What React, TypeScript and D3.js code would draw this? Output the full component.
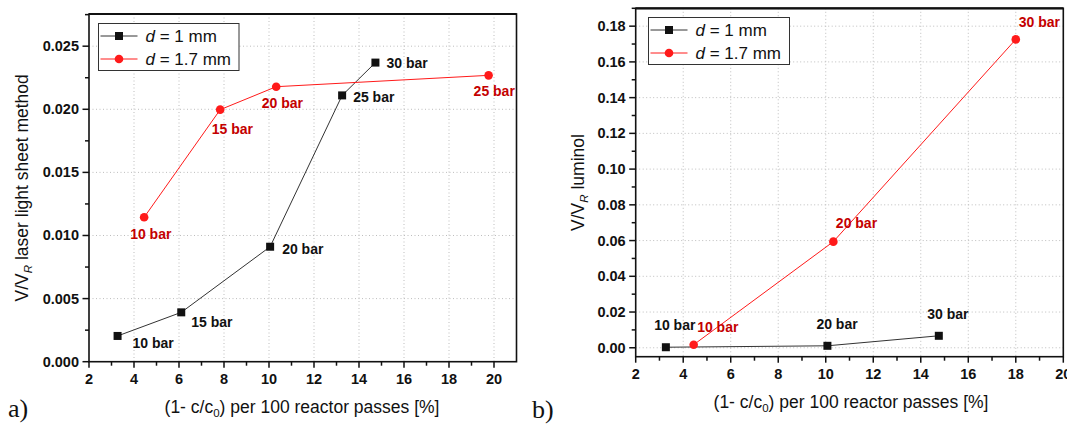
import React from 'react';
import * as d3 from 'd3';

// ---------- data ----------
const xTickValues = [2, 4, 6, 8, 10, 12, 14, 16, 18, 20];
const leftYTicks = [0, 0.005, 0.01, 0.015, 0.02, 0.025];
const rightYTicks = [0, 0.02, 0.04, 0.06, 0.08, 0.1, 0.12, 0.14, 0.16, 0.18];

const seriesNames = ['1 mm', '1.7 mm'];

// panel a) laser light sheet method
const leftX1mm = [3.27, 6.1, 10.05, 13.25, 14.73];
const leftY1mm = [0.00204, 0.00391, 0.00911, 0.0211, 0.0237];
const leftLabels1mm = ['10 bar', '15 bar', '20 bar', '25 bar', '30 bar'];
const leftX17mm = [4.45, 7.83, 10.32, 19.76];
const leftY17mm = [0.01144, 0.01997, 0.02179, 0.02269];
const leftLabels17mm = ['10 bar', '15 bar', '20 bar', '25 bar'];

// panel b) luminol
const rightX1mm = [3.27, 10.07, 14.76];
const rightY1mm = [0.0003, 0.0011, 0.0067];
const rightLabels1mm = ['10 bar', '20 bar', '30 bar'];
const rightX17mm = [4.44, 10.32, 18.0];
const rightY17mm = [0.0017, 0.0594, 0.1726];
const rightLabels17mm = ['10 bar', '20 bar', '30 bar'];

// ---------- layout (label offsets in px) ----------
const leftOff1 = [[15, 12], [10, 15], [12, 7], [11, 7], [11, 5]];
const leftOff17 = [[-14, 22], [-8.5, 24], [-14.5, 21], [-15, 21]];
const rightOff1 = [[-11.7, -17], [-11, -17], [-11.5, -17]];
const rightOff17 = [[3.5, -13], [2.5, -14], [3, -12.5]];

const FONT = 'Arial, "Liberation Sans", Helvetica, sans-serif';
const BLACK = '#111';
const RED = '#ff1a1a';
const RED_TEXT = '#c40000';

type Series = { xs: number[]; ys: number[]; labels: string[]; off: number[][]; kind: 'square' | 'circle' };

type PanelProps = {
  x0: number; x1: number; yTop: number; yBottom: number;
  xDomain: [number, number]; yDomain: [number, number];
  yTicks: number[]; yMinor: number[]; xMinor: number[]; yFmt: string;
  series: Series[];
  legend: { x: number; y: number; w: number; h: number };
  yTitleRest: string; yTitleX: number; xTitleX: number; xTitleY: number;
  letter: string; letterX: number; letterY: number;
};

function Panel(p: PanelProps) {
  const x = d3.scaleLinear().domain(p.xDomain).range([p.x0, p.x1]);
  const y = d3.scaleLinear().domain(p.yDomain).range([p.yBottom, p.yTop]);
  const line = d3.line<[number, number]>().x(d => x(d[0])).y(d => y(d[1]));
  const gridX = xTickValues.filter(v => v > p.xDomain[0] && v < p.xDomain[1]);
  const gridY = p.yTicks.filter(v => y(v) < p.yBottom - 1 && y(v) > p.yTop + 1);
  const yc = (p.yTop + p.yBottom) / 2;
  return (
    <g>
      {/* grid */}
      {gridX.map(v => (
        <line key={'gx' + v} x1={x(v)} x2={x(v)} y1={p.yTop} y2={p.yBottom} stroke="#bdbdbd" strokeWidth={1} strokeDasharray="1,2.5" />
      ))}
      {gridY.map(v => (
        <line key={'gy' + v} x1={p.x0} x2={p.x1} y1={y(v)} y2={y(v)} stroke="#bdbdbd" strokeWidth={1} strokeDasharray="1,2.5" />
      ))}
      {/* frame */}
      <rect x={p.x0} y={p.yTop} width={p.x1 - p.x0} height={p.yBottom - p.yTop} fill="none" stroke={BLACK} strokeWidth={1.6} />
      <line x1={p.x0} x2={p.x1} y1={p.yTop} y2={p.yTop} stroke={BLACK} strokeWidth={2.2} />
      {/* x ticks */}
      {xTickValues.filter(v => v >= p.xDomain[0] && v <= p.xDomain[1]).map(v => (
        <g key={'xt' + v}>
          <line x1={x(v)} x2={x(v)} y1={p.yBottom} y2={p.yBottom + 6} stroke={BLACK} strokeWidth={1.5} />
          <text x={x(v)} y={p.yBottom + 22} textAnchor="middle" fontFamily={FONT} fontWeight="bold" fontSize={14.5} fill={BLACK}>{v}</text>
        </g>
      ))}
      {p.xMinor.map(v => (
        <line key={'xm' + v} x1={x(v)} x2={x(v)} y1={p.yBottom} y2={p.yBottom + 4} stroke={BLACK} strokeWidth={1.5} />
      ))}
      {/* y ticks */}
      {p.yTicks.map(v => (
        <g key={'yt' + v}>
          <line x1={p.x0 - 6.5} x2={p.x0} y1={y(v)} y2={y(v)} stroke={BLACK} strokeWidth={1.5} />
          <text x={p.x0 - 10} y={y(v) + 5} textAnchor="end" fontFamily={FONT} fontWeight="bold" fontSize={14.5} fill={BLACK}>{d3.format(p.yFmt)(v)}</text>
        </g>
      ))}
      {p.yMinor.map(v => (
        <line key={'ym' + v} x1={p.x0 - 4} x2={p.x0} y1={y(v)} y2={y(v)} stroke={BLACK} strokeWidth={1.5} />
      ))}
      {/* series */}
      {p.series.map((s, si) => {
        const pts: [number, number][] = s.xs.map((v, i) => [v, s.ys[i]]);
        const col = s.kind === 'square' ? BLACK : RED;
        return (
          <g key={'s' + si}>
            <path d={line(pts) || ''} fill="none" stroke={s.kind === 'square' ? '#333' : RED} strokeWidth={1} />
            {pts.map((d, i) => s.kind === 'square'
              ? <rect key={i} x={x(d[0]) - 4} y={y(d[1]) - 4} width={8} height={8} fill={col} />
              : <circle key={i} cx={x(d[0])} cy={y(d[1])} r={4.3} fill={col} />)}
            {pts.map((d, i) => (
              <text key={'l' + i} x={x(d[0]) + s.off[i][0]} y={y(d[1]) + s.off[i][1]} fontFamily={FONT} fontWeight="bold" fontSize={14}
                fill={s.kind === 'square' ? BLACK : RED_TEXT}>{s.labels[i]}</text>
            ))}
          </g>
        );
      })}
      {/* legend */}
      <rect x={p.legend.x} y={p.legend.y} width={p.legend.w} height={p.legend.h} fill="#fff" stroke="#333" strokeWidth={1} />
      {seriesNames.map((n, i) => {
        const cy = p.legend.y + 12.5 + i * 23;
        const lx = p.legend.x + 2;
        const isSq = i === 0;
        return (
          <g key={'lg' + i}>
            <line x1={lx} x2={lx + 37} y1={cy} y2={cy} stroke={isSq ? '#333' : RED} strokeWidth={1} />
            {isSq
              ? <rect x={lx + 18.5 - 4} y={cy - 4} width={8} height={8} fill={BLACK} />
              : <circle cx={lx + 18.5} cy={cy} r={4.3} fill={RED} />}
            <text x={lx + 45} y={cy + 6} fontFamily={FONT} fontSize={17} fill={BLACK}>
              <tspan fontStyle="italic">d</tspan> = {n}
            </text>
          </g>
        );
      })}
      {/* axis titles */}
      <text transform={`translate(${p.yTitleX},${yc}) rotate(-90)`} textAnchor="middle" fontFamily={FONT} fontSize={17.5} fill={BLACK}>
        V/V<tspan fontStyle="italic" fontSize={11.5} dy={4}>R</tspan>
        <tspan dy={-4}>{' ' + p.yTitleRest}</tspan>
      </text>
      <text x={p.xTitleX} y={p.xTitleY} textAnchor="middle" fontFamily={FONT} fontSize={17.5} fill={BLACK}>
        (1- c/c<tspan fontSize={11.5} dy={4}>0</tspan><tspan dy={-4}>) per 100 reactor passes [%]</tspan>
      </text>
      <text x={p.letterX} y={p.letterY} fontFamily='"Liberation Serif", "Times New Roman", serif' fontSize={26} fill={BLACK}>{p.letter}</text>
    </g>
  );
}

function range(a: number, b: number, step: number) {
  const out: number[] = [];
  for (let v = a; v <= b + 1e-9; v += step) out.push(+v.toFixed(6));
  return out;
}

export default function App() {
  const leftYMinor = range(0.0025, 0.0275, 0.005);
  const rightYMinor = range(0.01, 0.19, 0.02);
  return (
    <svg width={1067} height={425} style={{ position: 'absolute', left: 0, top: 0, background: '#fff' }}>
      <rect width={1067} height={425} fill="#fff" />
      <Panel
        x0={89} x1={516.5} yTop={14} yBottom={361.7}
        xDomain={[2, 21]} yDomain={[0, 0.02755]}
        yTicks={leftYTicks} yMinor={leftYMinor} xMinor={range(3, 19, 2)} yFmt=".3f"
        series={[
          { xs: leftX1mm, ys: leftY1mm, labels: leftLabels1mm, off: leftOff1, kind: 'square' },
          { xs: leftX17mm, ys: leftY17mm, labels: leftLabels17mm, off: leftOff17, kind: 'circle' },
        ]}
        legend={{ x: 98.5, y: 23.5, w: 140.5, h: 47 }}
        yTitleRest="laser light sheet method" yTitleX={28} xTitleX={302} xTitleY={413}
        letter="a)" letterX={8} letterY={417}
      />
      <Panel
        x0={635.7} x1={1063.3} yTop={8.3} yBottom={356.7}
        xDomain={[2, 20]} yDomain={[-0.005, 0.19]}
        yTicks={rightYTicks} yMinor={rightYMinor} xMinor={range(3, 19, 2)} yFmt=".2f"
        series={[
          { xs: rightX1mm, ys: rightY1mm, labels: rightLabels1mm, off: rightOff1, kind: 'square' },
          { xs: rightX17mm, ys: rightY17mm, labels: rightLabels17mm, off: rightOff17, kind: 'circle' },
        ]}
        legend={{ x: 648.5, y: 17.5, w: 141, h: 47 }}
        yTitleRest="luminol" yTitleX={584} xTitleX={851} xTitleY={408}
        letter="b)" letterX={532} letterY={418}
      />
    </svg>
  );
}
